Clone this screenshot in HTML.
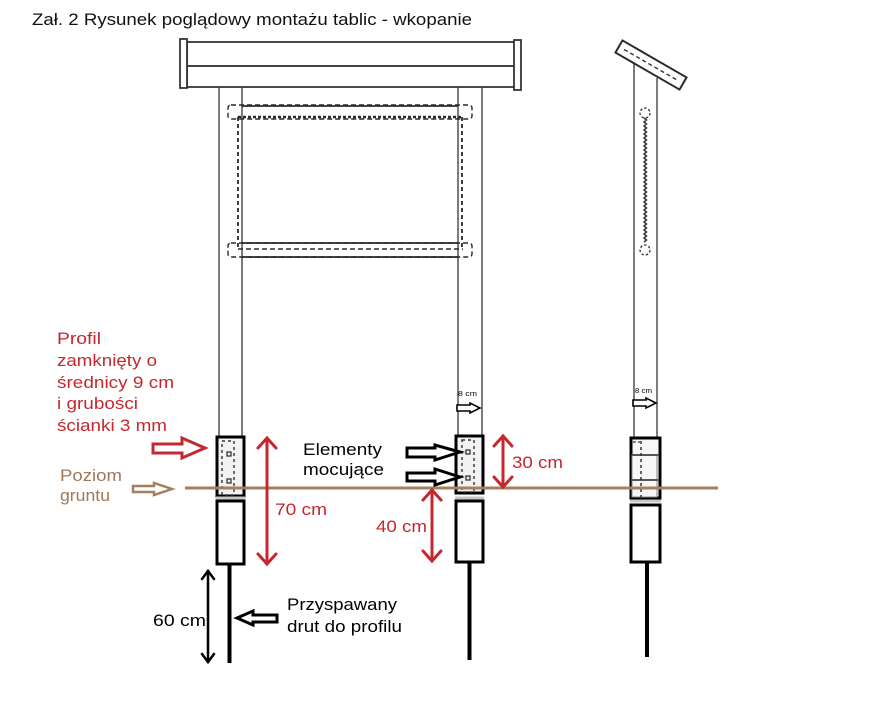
<!DOCTYPE html>
<html><head><meta charset="utf-8"><style>
html,body{margin:0;padding:0;background:#fff;width:873px;height:719px;overflow:hidden}
svg{display:block}
text{font-family:"Liberation Sans",Arial,sans-serif}
</style></head><body>
<svg width="873" height="719" viewBox="0 0 873 719" xmlns="http://www.w3.org/2000/svg">
<rect width="873" height="719" fill="#fff"/>
<text x="32" y="25" font-size="17" fill="#111" textLength="440" lengthAdjust="spacingAndGlyphs">Zał. 2 Rysunek poglądowy montażu tablic - wkopanie</text>

<!-- top crossbar -->
<g fill="none" stroke="#2a2a2a" stroke-width="1.7">
<rect x="187" y="42" width="328" height="45" fill="#fff"/>
<line x1="187" y1="66" x2="515" y2="66"/>
<rect x="180" y="39" width="7" height="49" fill="#fff"/>
<rect x="514" y="40" width="7" height="50" fill="#fff"/>
</g>

<!-- posts -->
<g stroke="#444" stroke-width="1.4">
<line x1="219" y1="87" x2="219" y2="436"/>
<line x1="242" y1="87" x2="242" y2="436"/>
<line x1="458" y1="87" x2="458" y2="435"/>
<line x1="482" y1="87" x2="482" y2="435"/>
<line x1="634" y1="55" x2="634" y2="437"/>
<line x1="657" y1="78" x2="657" y2="437"/>
</g>

<!-- rails & panel -->
<g fill="none" stroke="#2a2a2a">
<line x1="242" y1="106" x2="458" y2="106" stroke-width="1.8"/>
<rect x="228" y="105" width="244" height="14" rx="3" stroke-width="1.4" stroke-dasharray="5 3"/>
<line x1="238" y1="117" x2="463" y2="117" stroke-width="2.6" stroke-dasharray="3 2"/>
<line x1="238" y1="117" x2="238" y2="248" stroke-width="1.8" stroke-dasharray="4 3"/>
<line x1="462" y1="117" x2="462" y2="248" stroke-width="1.8" stroke-dasharray="4 3"/>
<line x1="242" y1="243" x2="458" y2="243" stroke-width="1.8"/>
<line x1="242" y1="257" x2="458" y2="257" stroke-width="1.8"/>
<rect x="228" y="243" width="244" height="14" rx="3" stroke-width="1.4" stroke-dasharray="5 3"/>
<line x1="238" y1="249" x2="463" y2="249" stroke-width="1.4" stroke-dasharray="5 3"/>
</g>

<!-- side view top -->
<g transform="translate(651,65) rotate(30)">
<rect x="-37" y="-7" width="74" height="14" fill="#fff" stroke="#2a2a2a" stroke-width="2"/>
<line x1="-31" y1="0" x2="31" y2="0" stroke="#333" stroke-width="1.3" stroke-dasharray="4 3"/>
</g>
<circle cx="645" cy="113" r="5" fill="none" stroke="#333" stroke-width="1.3" stroke-dasharray="2.5 2"/>
<circle cx="645" cy="250" r="5" fill="none" stroke="#333" stroke-width="1.3" stroke-dasharray="2.5 2"/>
<path d="M644 118 l2.5 2 -2.5 2 2.5 2 -2.5 2 2.5 2 -2.5 2 2.5 2 -2.5 2 2.5 2 -2.5 2 2.5 2 -2.5 2 2.5 2 -2.5 2 2.5 2 -2.5 2 2.5 2 -2.5 2 2.5 2 -2.5 2 2.5 2 -2.5 2 2.5 2 -2.5 2 2.5 2 -2.5 2 2.5 2 -2.5 2 2.5 2 -2.5 2 2.5 2 -2.5 2 2.5 2 -2.5 2 2.5 2 -2.5 2 2.5 2 -2.5 2 2.5 2 -2.5 2 2.5 2 -2.5 2 2.5 2 -2.5 2 2.5 2 -2.5 2 2.5 2 -2.5 2 2.5 2 -2.5 2 2.5 2 -2.5 2 2.5 2 -2.5 2 2.5 2 -2.5 2 2.5 2 -2.5 2 2.5 2 -2.5 2 2.5 2 -2.5 2" fill="none" stroke="#333" stroke-width="1.5"/>

<!-- left foot -->
<rect x="217" y="437" width="27" height="59" fill="#f2f2f2" stroke="#000" stroke-width="3"/>
<rect x="222" y="441" width="12" height="54" fill="none" stroke="#333" stroke-width="1.4" stroke-dasharray="3 3"/>
<rect x="227" y="452" width="4" height="4" fill="none" stroke="#333" stroke-width="1.3"/>
<rect x="227" y="479" width="4" height="4" fill="none" stroke="#333" stroke-width="1.3"/>
<line x1="216" y1="498" x2="245" y2="498" stroke="#c8c8c8" stroke-width="3"/>
<rect x="217" y="501" width="27" height="63" fill="#fff" stroke="#000" stroke-width="3"/>
<line x1="229.5" y1="565" x2="229.5" y2="663" stroke="#000" stroke-width="4"/>

<!-- middle foot -->
<rect x="456" y="436" width="27" height="57" fill="#f2f2f2" stroke="#000" stroke-width="3"/>
<rect x="462" y="440" width="12" height="52" fill="none" stroke="#333" stroke-width="1.4" stroke-dasharray="3 3"/>
<rect x="466" y="450" width="4" height="4" fill="none" stroke="#333" stroke-width="1.3"/>
<rect x="466" y="476" width="4" height="4" fill="none" stroke="#333" stroke-width="1.3"/>
<line x1="455" y1="498" x2="484" y2="498" stroke="#c8c8c8" stroke-width="3"/>
<rect x="456" y="501" width="27" height="61" fill="#fff" stroke="#000" stroke-width="3"/>
<line x1="469.5" y1="563" x2="469.5" y2="660" stroke="#000" stroke-width="4"/>

<!-- side foot -->
<rect x="631" y="438" width="29" height="60" fill="#f6f6f6" stroke="#000" stroke-width="3"/>
<rect x="632" y="455" width="25" height="42" fill="none" stroke="#888" stroke-width="1"/>
<line x1="632" y1="455" x2="659" y2="455" stroke="#555" stroke-width="2"/>
<line x1="632" y1="480" x2="659" y2="480" stroke="#555" stroke-width="2"/>
<line x1="641" y1="441" x2="641" y2="497" stroke="#333" stroke-width="1.5" stroke-dasharray="3 3"/>
<line x1="633" y1="442" x2="640" y2="442" stroke="#333" stroke-width="1.2" stroke-dasharray="3 2"/>
<line x1="630" y1="501" x2="661" y2="501" stroke="#c8c8c8" stroke-width="3"/>
<rect x="631" y="505" width="29" height="57" fill="#fff" stroke="#000" stroke-width="3"/>
<line x1="647" y1="563" x2="647" y2="657" stroke="#000" stroke-width="4"/>

<!-- ground line -->
<line x1="185" y1="488" x2="718" y2="488" stroke="#a5805f" stroke-width="3"/>

<!-- red double arrows -->
<g stroke="#c4282e" stroke-width="3" fill="none" stroke-linecap="round">
<line x1="267" y1="438" x2="267" y2="564"/>
<polyline points="258,448 267,438 276,448"/>
<polyline points="258,554 267,564 276,554"/>
<line x1="503" y1="436" x2="503" y2="487"/>
<polyline points="494,446 503,436 512,446"/>
<polyline points="494,477 503,487 512,477"/>
<line x1="432" y1="490" x2="432" y2="561"/>
<polyline points="423,500 432,490 441,500"/>
<polyline points="423,551 432,561 441,551"/>
</g>
<!-- black double arrow -->
<g stroke="#000" stroke-width="2.5" fill="none" stroke-linecap="round">
<line x1="208" y1="571" x2="208" y2="662"/>
<polyline points="202,579 208,571 214,579"/>
<polyline points="202,654 208,662 214,654"/>
</g>

<!-- hollow arrows -->
<polygon points="153,444 182,444 182,438 205,448 182,458 182,453 153,453" fill="#fff" stroke="#c4282e" stroke-width="3" stroke-linejoin="miter"/>
<polygon points="133,486 154,486 154,483 172,489 154,495 154,492 133,492" fill="#fff" stroke="#a5805f" stroke-width="2.5"/>
<polygon points="407,448 435,448 435,445 460,452 435,460 435,457 407,457" fill="#fff" stroke="#000" stroke-width="3"/>
<polygon points="407,473 435,473 435,469 460,477 435,485 435,481 407,481" fill="#fff" stroke="#000" stroke-width="3"/>
<polygon points="237,618 253,611 253,615 277,615 277,622 253,622 253,625" fill="#fff" stroke="#000" stroke-width="3"/>
<polygon points="457,405 470,405 470,403 480,408 470,413 470,411 457,411" fill="#fff" stroke="#000" stroke-width="1.6"/>
<polygon points="633,400 646,400 646,398 656,403 646,408 646,406 633,406" fill="#fff" stroke="#000" stroke-width="1.6"/>

<!-- labels -->
<g font-size="17" fill="#c4282e">
<text x="57" y="344" textLength="44" lengthAdjust="spacingAndGlyphs">Profil</text>
<text x="57" y="366" textLength="100" lengthAdjust="spacingAndGlyphs">zamknięty o</text>
<text x="57" y="388" textLength="117" lengthAdjust="spacingAndGlyphs">średnicy 9 cm</text>
<text x="57" y="409" textLength="81" lengthAdjust="spacingAndGlyphs">i grubości</text>
<text x="57" y="431" textLength="110" lengthAdjust="spacingAndGlyphs">ścianki 3 mm</text>
<text x="275" y="515" textLength="52" lengthAdjust="spacingAndGlyphs">70 cm</text>
<text x="512" y="468" textLength="51" lengthAdjust="spacingAndGlyphs">30 cm</text>
<text x="376" y="532" textLength="51" lengthAdjust="spacingAndGlyphs">40 cm</text>
</g>
<g font-size="17" fill="#a0785a">
<text x="60" y="481" textLength="62" lengthAdjust="spacingAndGlyphs">Poziom</text>
<text x="60" y="501" textLength="50" lengthAdjust="spacingAndGlyphs">gruntu</text>
</g>
<g font-size="17" fill="#000">
<text x="303" y="455" textLength="79" lengthAdjust="spacingAndGlyphs">Elementy</text>
<text x="303" y="475" textLength="81" lengthAdjust="spacingAndGlyphs">mocujące</text>
<text x="153" y="626" textLength="53" lengthAdjust="spacingAndGlyphs">60 cm</text>
<text x="287" y="610" textLength="110" lengthAdjust="spacingAndGlyphs">Przyspawany</text>
<text x="287" y="632" textLength="115" lengthAdjust="spacingAndGlyphs">drut do profilu</text>
</g>
<g font-size="7" fill="#000">
<text x="458" y="396" textLength="19" lengthAdjust="spacingAndGlyphs">8 cm</text>
<text x="635" y="393" textLength="17" lengthAdjust="spacingAndGlyphs">8 cm</text>
</g>
</svg>
</body></html>
